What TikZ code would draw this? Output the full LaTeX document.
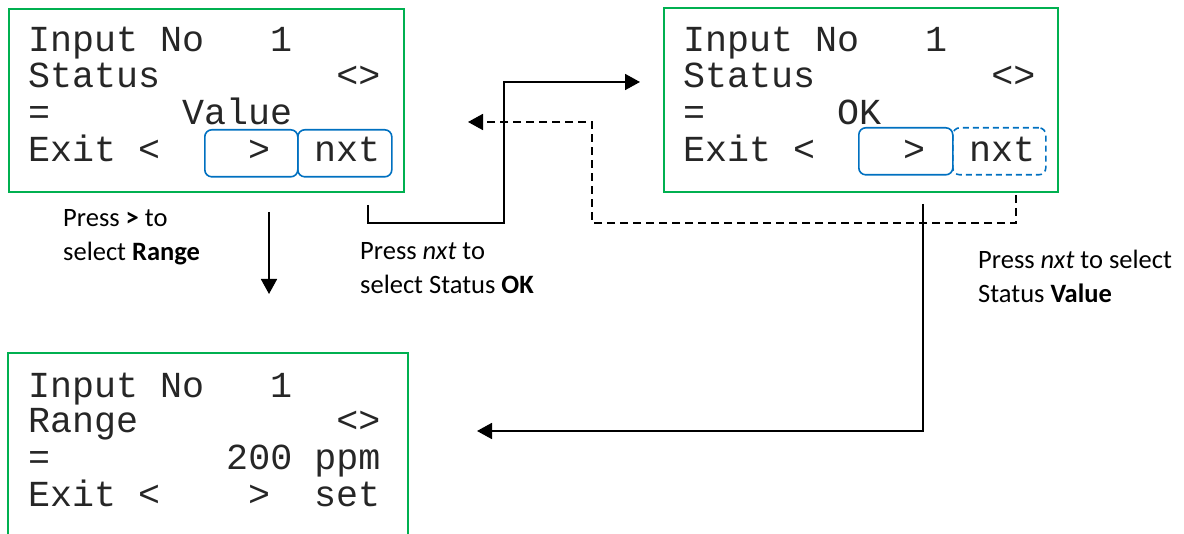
\documentclass[tikz,border=0pt]{standalone}
\usepackage{fontspec}
\setmainfont{Carlito}
\newfontfamily\lcdfont{Liberation Mono}
\usetikzlibrary{arrows.meta}
\definecolor{lcdgreen}{HTML}{00B050}
\definecolor{btnblue}{HTML}{0070C0}
\tikzset{
  screen/.style={draw=lcdgreen, line width=2.2pt, inner sep=0pt, anchor=north west},
  screenline/.style={draw=lcdgreen, line width=2.2pt},
  lcd/.style={anchor=base west, inner sep=0pt, text=black!85, font=\lcdfont\fontsize{36.67}{40}\selectfont},
  button/.style={draw=btnblue, line width=1.6pt, rounded corners=7pt, inner sep=0pt, anchor=north west},
  dbutton/.style={button, dashed, dash pattern=on 6pt off 4pt},
  caption/.style={anchor=base west, inner sep=0pt, font=\fontsize{26.5}{34}\selectfont},
  conn/.style={draw=black, line width=1.8pt},
  tip/.style={-{Triangle[length=15pt,width=16pt]}},
  dconn/.style={conn, dash pattern=on 8pt off 5pt}
}
\begin{document}
\begin{tikzpicture}[x=1pt,y=-1pt]
\useasboundingbox (0,0) rectangle (1184,534);

% screen 1
\node[screen, minimum width=395pt, minimum height=183pt] (s1) at (8,8) {};
\node[button, minimum width=93pt, minimum height=47pt] (b1a) at (204,129) {};
\node[button, minimum width=94pt, minimum height=47pt] (b1b) at (297,129) {};
\node[lcd] (s1l1) at (28,52) {Input~No~~~1};
\node[lcd] (s1l2) at (28,88) {Status~~~~~~~~<>};
\node[lcd] (s1l3) at (28,125) {=~~~~~~Value};
\node[lcd] (s1l4) at (28,162) {Exit~<~~~~>~~nxt};

% screen 2
\node[screen, minimum width=394pt, minimum height=184pt] (s2) at (663,7) {};
\node[button, minimum width=94pt, minimum height=47pt] (b2a) at (858,127) {};
\node[dbutton, minimum width=93pt, minimum height=47pt] (b2b) at (952,127) {};
\node[lcd] (s2l1) at (683,52) {Input~No~~~1};
\node[lcd] (s2l2) at (683,88) {Status~~~~~~~~<>};
\node[lcd] (s2l3) at (683,125) {=~~~~~~OK};
\node[lcd] (s2l4) at (683,162) {Exit~<~~~~>~~nxt};

% screen 3 (cut off at the bottom)
\coordinate (s3bl) at (8,540);
\coordinate (s3tr) at (408,353);
\coordinate (s3br) at (408,540);
\draw[screenline] (s3bl) |- (s3tr) -- (s3br);
\node[lcd] (s3l1) at (28,398) {Input~No~~~1};
\node[lcd] (s3l2) at (28,433) {Range~~~~~~~~~<>};
\node[lcd] (s3l3) at (28,470) {=~~~~~~~~200~ppm};
\node[lcd] (s3l4) at (28,507) {Exit~<~~~~>~~set};

% connectors
\coordinate (d1) at (269,212);
\coordinate (d2) at (269,294);
\draw[conn, tip] (d1) -- (d2);

\coordinate (n1) at (368,205);
\coordinate (n2) at (504,223);
\coordinate (n3) at (640,82);
\draw[conn, tip] (n1) |- (n2) |- (n3);

\coordinate (v1) at (1016,195);
\coordinate (v2) at (592,223);
\coordinate (v3) at (468,122);
\draw[dconn, tip] (v1) |- (v2) |- (v3);

\coordinate (r1) at (923,204);
\coordinate (r2) at (477,431);
\draw[conn, tip] (r1) |- (r2);

% captions
\node[caption] (c1a) at (63,227) {Press \textbf{>} to};
\node[caption] (c1b) at (63,261) {select \textbf{Range}};
\node[caption] (c2a) at (360,260) {Press \textit{nxt} to};
\node[caption] (c2b) at (360,294) {select Status \textbf{OK}};
\node[caption] (c3a) at (978,269) {Press \textit{nxt} to select};
\node[caption] (c3b) at (978,303) {Status \textbf{Value}};
\end{tikzpicture}
\end{document}
